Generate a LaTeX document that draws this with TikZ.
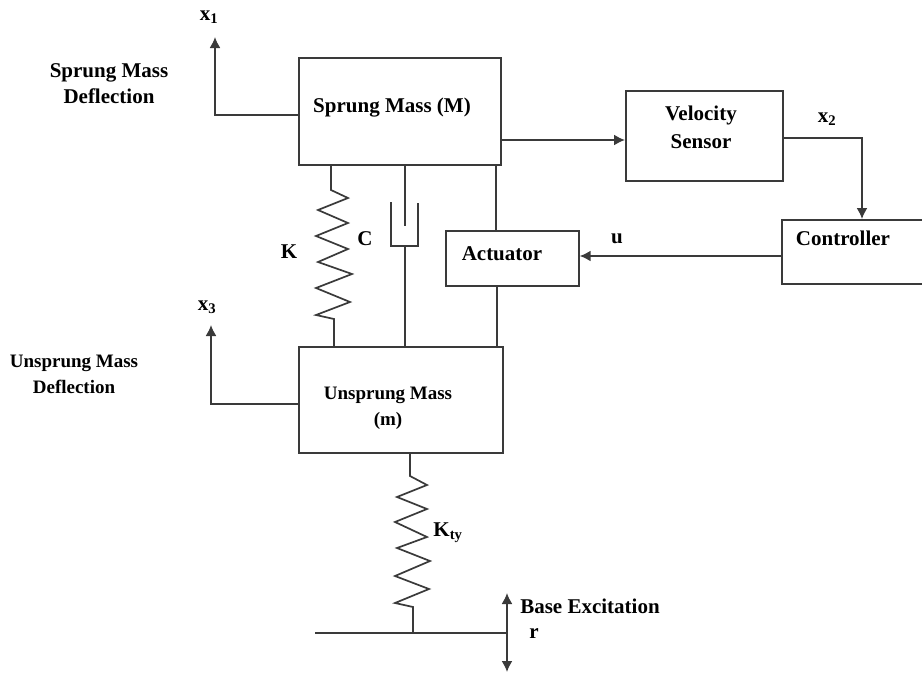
\documentclass[tikz,border=0pt]{standalone}
\usepackage{fontspec}
\setmainfont{Liberation Serif}
\definecolor{WireGray}{HTML}{3A3A3A}
\usetikzlibrary{arrows.meta}
\tikzset{
  wire/.style={WireGray, line width=1.7pt, line join=miter},
  arrowwire/.style={wire, -{Latex[length=11pt, width=11pt]}},
  massbox/.style={draw=WireGray, line width=1.7pt, inner sep=0pt, anchor=north west},
  tag/.style={font=\fontsize{21}{26}\selectfont\bfseries, text=black, inner sep=0pt, align=center},
  smalltag/.style={tag, font=\fontsize{19}{26}\selectfont\bfseries}
}
\begin{document}
\begin{tikzpicture}[x=1pt, y=-1pt]
  \useasboundingbox (0,0) rectangle (922,673);
  % Boxes
  \node[massbox, minimum width=202pt, minimum height=107pt] (sprung) at (298,57) {};
  \node[massbox, minimum width=204pt, minimum height=106pt] (unsprung) at (298,346) {};
  \node[massbox, minimum width=157pt, minimum height=90pt] (sensor) at (625,90) {};
  \node[massbox, minimum width=145pt, minimum height=64pt] (controller) at (781,219) {};
  \node[massbox, minimum width=133pt, minimum height=55pt] (actuator) at (445,230) {};
  % Box labels
  \node[tag] (sprungtext) at (392,108) {Sprung Mass (M)};
  \node[smalltag] (unsprungtext) at (388,408) {Unsprung Mass\\(m)};
  \node[tag, font=\fontsize{21}{28}\selectfont\bfseries] (sensortext) at (701,127) {Velocity\\Sensor};
  \node[tag] (controllertext) at (843,238) {Controller};
  \node[tag] (actuatortext) at (502,254) {Actuator};
  % Free ends and bends
  \coordinate (xonetip) at (215,37);
  \coordinate (xthreetip) at (211,325);
  \coordinate (sensorout) at (862,138);
  \coordinate (ktop) at (331,190);
  \coordinate (kbot) at (334,319);
  \coordinate (cupleft) at (391,246);
  \coordinate (cupright) at (418,246);
  \coordinate (rodtop) at (405,226);
  \coordinate (rodbot) at (405,246);
  \coordinate (kttop) at (410,476);
  \coordinate (ktbot) at (413,607);
  \coordinate (groundleft) at (315,633);
  \coordinate (groundjoin) at (413,633);
  \coordinate (groundright) at (507,633);
  \coordinate (baseup) at (507,593);
  \coordinate (basedown) at (507,672);
  % Deflection outputs
  \draw[arrowwire] (sprung.west |- 0,115) -| (xonetip);
  \draw[arrowwire] (unsprung.west |- 0,404) -| (xthreetip);
  % Signal loop
  \draw[arrowwire] (sprung.east |- 0,140) -- (sensor.west |- 0,140);
  \draw[arrowwire] (sensor.east |- sensorout) -- (sensorout) -- (sensorout |- controller.north);
  \draw[arrowwire] (controller.west |- 0,256) -- (actuator.east |- 0,256);
  % Spring K
  \draw[wire] (ktop |- sprung.south) -- (ktop) -- (348,198) -- (318,210) -- (348,223) -- (316,236)
    -- (348,249) -- (318,262) -- (352,274) -- (316,288) -- (350,302) -- (316,315) -- (kbot)
    -- (kbot |- unsprung.north);
  % Damper C
  \draw[wire] (rodtop |- sprung.south) -- (rodtop);
  \draw[wire] (391,202) -- (cupleft) -- (cupright) -- (418,203);
  \draw[wire] (rodbot) -- (rodbot |- unsprung.north);
  % Actuator struts
  \draw[wire] (496,164) -- (496,230);
  \draw[wire] (497,285) -- (497,346);
  % Spring Kty
  \draw[wire] (kttop |- unsprung.south) -- (kttop) -- (427,485) -- (397,497) -- (427,509) -- (395,522)
    -- (427,537) -- (397,548) -- (430,561) -- (395,576) -- (429,589) -- (395,603) -- (ktbot)
    -- (groundjoin);
  % Ground and excitation
  \draw[wire] (groundleft) -- (groundright);
  \draw[arrowwire] (groundright) -- (baseup);
  \draw[arrowwire] (groundright) -- (basedown);
  % Labels
  \node[tag] (xone) at (209,17) {x\textsubscript{1}};
  \node[tag] (xtwo) at (827,119) {x\textsubscript{2}};
  \node[tag] (xthree) at (207,307) {x\textsubscript{3}};
  \node[tag] (sprungdefl) at (109,84) {Sprung Mass\\Deflection};
  \node[smalltag] (unsprungdefl) at (74,374) {Unsprung Mass\\Deflection};
  \node[tag] (kspring) at (289,252) {K};
  \node[tag] (cdamper) at (365,239) {C};
  \node[tag] (ulabel) at (617,239) {u};
  \node[tag] (ktlabel) at (448,533) {K\textsubscript{ty}};
  \node[tag] (baselabel) at (590,606) {Base Excitation};
  \node[tag] (rlabel) at (534,634) {r};
\end{tikzpicture}
\end{document}
